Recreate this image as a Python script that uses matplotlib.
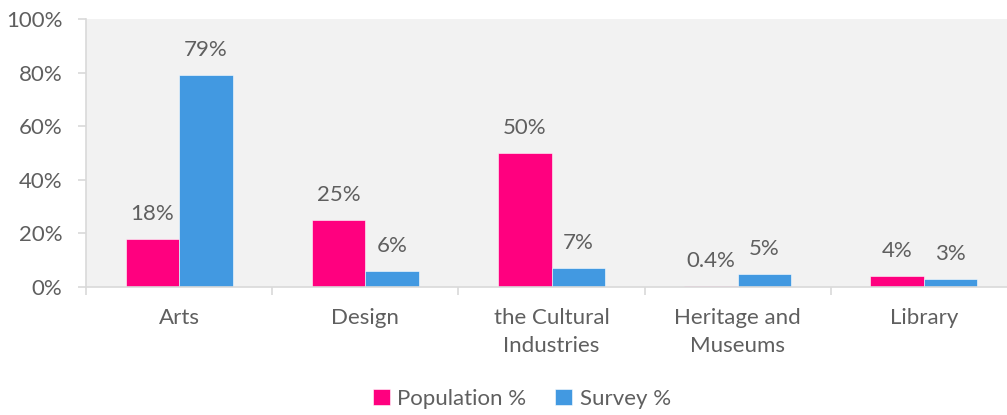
import numpy as np
import matplotlib.pyplot as plt
from matplotlib.ticker import PercentFormatter, FixedLocator

categories = ["Arts", "Design", "the Cultural\nIndustries", "Heritage and\nMuseums", "Library"]
population = [18, 25, 50, 0.4, 4]
survey = [79, 6, 7, 5, 3]
pop_labels = ["18%", "25%", "50%", "0.4%", "4%"]
survey_labels = ["79%", "6%", "7%", "5%", "3%"]

PINK = "#ff007f"
BLUE = "#4299e1"
TEXT = "#5f5f5f"
GRID = "#d9d9d9"
FS = 16

plt.rcParams["font.family"] = ["Lato", "DejaVu Sans"]

fig = plt.figure(figsize=(10.07, 4.15), dpi=100)
ax = fig.add_axes([86 / 1007, 1 - 287 / 415, 931 / 1007, 268 / 415])
ax.set_facecolor("#f2f2f2")

x = np.arange(len(categories))
w = 0.287
b1 = ax.bar(x - w / 2, population, w, color=PINK, edgecolor="#ffffff", linewidth=0.4, label="Population %")
b2 = ax.bar(x + w / 2, survey, w, color=BLUE, edgecolor="#ffffff", linewidth=0.4, label="Survey %")

for bars, labels in ((b1, pop_labels), (b2, survey_labels)):
    for rect, lab in zip(bars, labels):
        ax.annotate(lab, (rect.get_x() + rect.get_width() / 2, rect.get_height()),
                    xytext=(0, 18), textcoords="offset points",
                    ha="center", va="center", fontsize=FS, color=TEXT)

ax.set_xlim(-0.5, len(categories) - 0.5)
ax.set_ylim(0, 100)
ax.yaxis.set_major_locator(FixedLocator([0, 20, 40, 60, 80, 100]))
ax.yaxis.set_major_formatter(PercentFormatter(decimals=0))

ax.set_xticks(x)
ax.set_xticklabels(categories, fontsize=FS, color=TEXT, linespacing=1.5)
ax.tick_params(axis="x", length=0, pad=15)
ax.set_xticks(np.arange(-0.5, len(categories)), minor=True)
ax.tick_params(axis="x", which="minor", length=6, color=GRID, width=1.2)
ax.tick_params(axis="y", labelsize=FS, labelcolor=TEXT, length=6, color=GRID, width=1.2, pad=11)

for side in ("top", "right"):
    ax.spines[side].set_visible(False)
for side in ("left", "bottom"):
    ax.spines[side].set_color(GRID)
    ax.spines[side].set_linewidth(1.2)

leg = fig.legend(handles=[b1, b2], loc="center", bbox_to_anchor=(522 / 1007, 1 - 399 / 415),
                 ncol=2, frameon=False, fontsize=FS, handlelength=0.75, handleheight=0.75,
                 handletextpad=0.35, columnspacing=1.3)
for t in leg.get_texts():
    t.set_color(TEXT)

fig.savefig("out.png", dpi=100)
